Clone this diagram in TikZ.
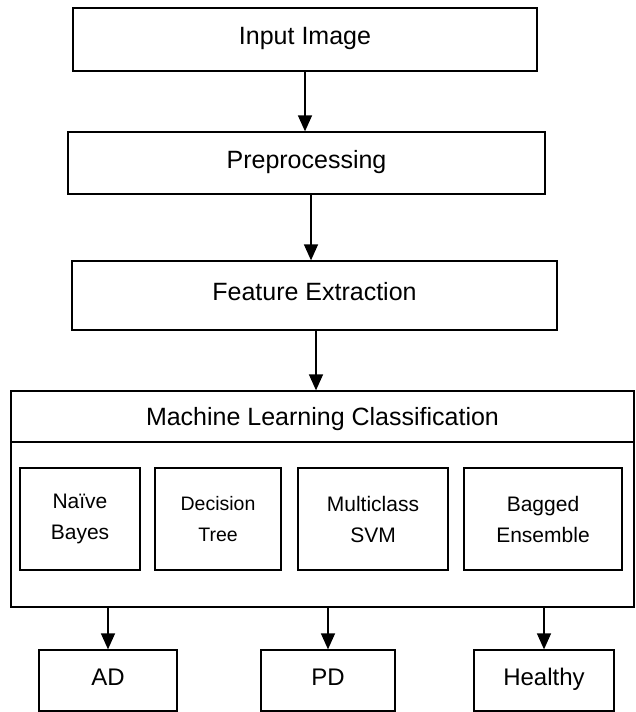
\documentclass[tikz,border=0pt]{standalone}
\usepackage{fontspec}
\setmainfont{Liberation Sans}
\usetikzlibrary{arrows.meta}

\begin{document}
\begin{tikzpicture}[x=1pt, y=-1pt,
  stage/.style={draw, line width=1.3pt, inner sep=0pt,
    font=\fontsize{25}{30}\selectfont, text height=18pt, text depth=8pt},
  algo/.style={draw, line width=1.3pt, inner sep=0pt, align=center,
    minimum height=102pt, font=\fontsize{21}{31}\selectfont},
  outbox/.style={draw, line width=1.3pt, inner sep=0pt, minimum height=61pt,
    font=\fontsize{24}{29}\selectfont, text height=17pt, text depth=7pt},
  arr/.style={line width=1.4pt, -{Triangle[width=14pt,length=16pt]}}]

\useasboundingbox (0,0) rectangle (635,712); %% page size

\node[stage, minimum width=464pt, minimum height=63pt] (input) at (305,39.5) {Input Image};
\node[stage, minimum width=477pt, minimum height=62pt] (prep) at (306.5,163) {Preprocessing};
\node[stage, minimum width=485pt, minimum height=69pt] (feat) at (314.5,295.5) {Feature Extraction};

%% classifier block
\node[draw, line width=1.3pt, minimum width=623pt, minimum height=216pt] (ml) at (322.5,499) {};
\node[stage, text depth=0pt, minimum width=623pt, minimum height=51pt, anchor=north]
  (mltitle) at (ml.north) {Machine Learning Classification};

\node[algo, minimum width=120pt] (nb) at (80,519) {Naïve\\Bayes};
\node[algo, minimum width=126pt, font=\fontsize{19.5}{31}\selectfont] (dt) at (218,519) {Decision\\Tree};
\node[algo, minimum width=150pt] (svm) at (373,519) {Multiclass\\SVM};
\node[algo, minimum width=158pt] (be) at (543,519) {Bagged\\Ensemble};

\node[outbox, minimum width=138pt] (ad) at (108,680.5) {AD};
\node[outbox, minimum width=134pt] (pd) at (328,680.5) {PD};
\node[outbox, minimum width=140pt] (hl) at (544,680.5) {Healthy};

\draw[arr] (input.south) -- (input.south |- prep.north);
\draw[arr] ([xshift=4.5pt]prep.south) -- ([xshift=4.5pt]prep.south |- feat.north);
\draw[arr] ([xshift=1.5pt]feat.south) -- ([xshift=1.5pt]feat.south |- ml.north);

\draw[arr] (ad.north |- ml.south) -- (ad.north);
\draw[arr] (pd.north |- ml.south) -- (pd.north);
\draw[arr] (hl.north |- ml.south) -- (hl.north);

\end{tikzpicture}
\end{document}
